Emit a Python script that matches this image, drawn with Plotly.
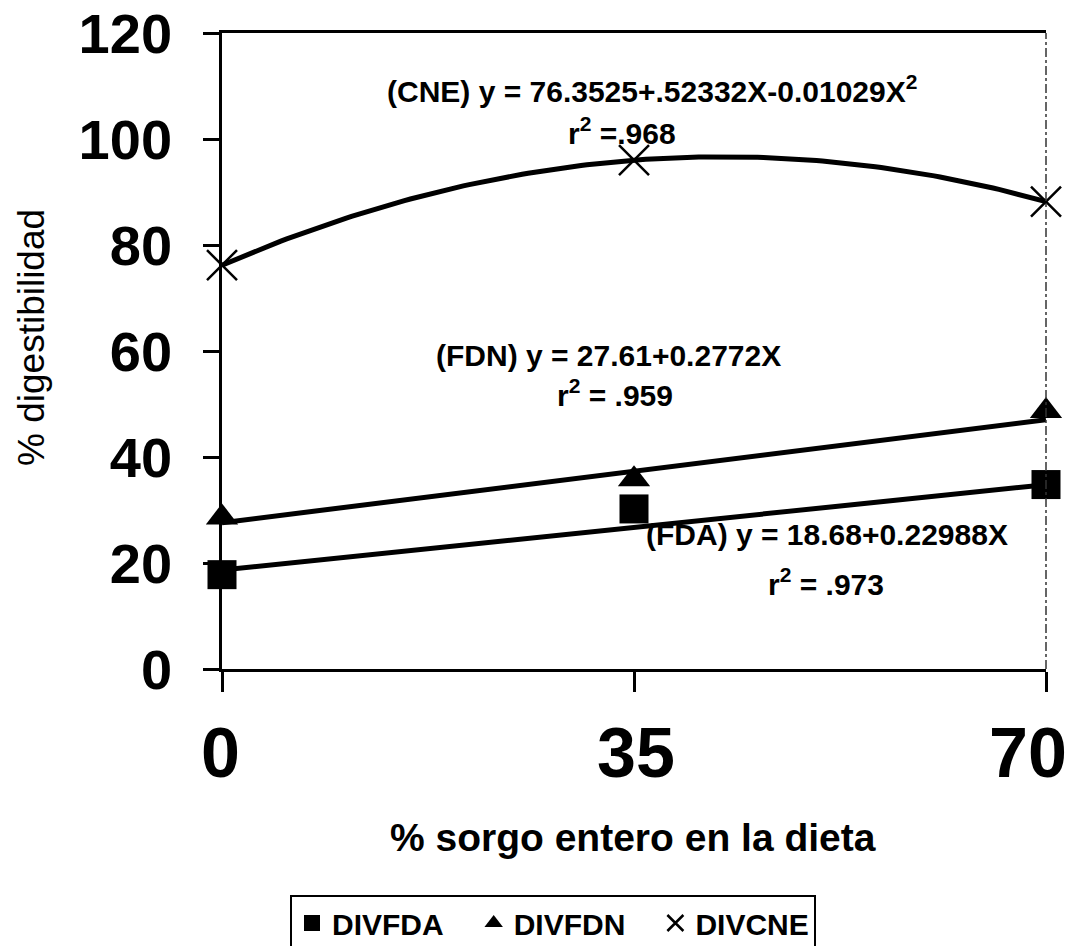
import numpy as np
import plotly.graph_objects as go

# ---- data ----
x_vals = [0, 35, 70]
divfda = [17.8, 30.2, 34.8]
divfdn = [28.6, 35.8, 48.7]
divcne = [76.2, 96.0, 88.2]

fda_coef = [18.68, 0.22988]      # intercept, slope (from chart text)
fdn_coef = [27.61, 0.2772]

x_ticks = [0, 35, 70]
x_tick_text = ["0", "35", "70"]
y_ticks = [0, 20, 40, 60, 80, 100, 120]
series_names = ["DIVFDA", "DIVFDN", "DIVCNE"]

FONT = "Liberation Sans, Arial, sans-serif"

xs = np.linspace(0, 70, 141)
fda_fit = fda_coef[0] + fda_coef[1] * xs
fdn_fit = fdn_coef[0] + fdn_coef[1] * xs
cne_poly = np.polyfit(x_vals, divcne, 2)
cne_fit = np.polyval(cne_poly, xs)

fig = go.Figure()
line_style = dict(color="black", width=5)
for yy in (fda_fit, fdn_fit, cne_fit):
    fig.add_trace(go.Scatter(x=xs, y=yy, mode="lines", line=line_style,
                             showlegend=False, hoverinfo="skip", cliponaxis=False))

pad = "\u00a0" * 3
fig.add_trace(go.Scatter(x=x_vals, y=divfda, mode="markers",
                         name=f"<b>{series_names[0]}</b>{pad}",
                         marker=dict(symbol="square", size=29, color="black"),
                         cliponaxis=False))
fig.add_trace(go.Scatter(x=x_vals, y=divfdn, mode="markers",
                         name=f"<b>{series_names[1]}</b>{pad}",
                         marker=dict(symbol="triangle-up", size=28, color="black"),
                         cliponaxis=False))
fig.add_trace(go.Scatter(x=x_vals, y=divcne, mode="markers",
                         name=f"<b>{series_names[2]}</b>",
                         marker=dict(symbol="x-thin", size=30, color="black",
                                     line=dict(color="black", width=2.5)),
                         cliponaxis=False))

OFF = 8  # page body margin
W, H = 1081, 946
# target plot area in screenshot pixels
PL, PR, PT, PB = 222, 1046, 33, 669
L = PL - OFF
R = W - (PR - OFF)
T = PT - OFF
B = H - (PB - OFF)
pw, ph = PR - PL, PB - PT


def px_x(p):
    return (p - PL) / pw


def px_y(p):
    return (PB - p) / ph


ann_font = dict(family=FONT, size=30, color="black")
annots = [
    ("<b>(CNE) y = 76.3525+.52332X-0.01029X<sup>2</sup></b>", 652, 89),
    ("<b>r<sup>2</sup> =.968</b>", 622, 131),
    ("<b>(FDN) y = 27.61+0.2772X</b>", 608, 356),
    ("<b>r<sup>2</sup> = .959</b>", 615, 393),
    ("<b>(FDA) y = 18.68+0.22988X</b>", 827, 534),
    ("<b>r<sup>2</sup> = .973</b>", 826, 582),
]
for txt, px, py in annots:
    fig.add_annotation(text=txt, x=px_x(px), y=px_y(py),
                       xref="paper", yref="paper", showarrow=False,
                       xanchor="center", yanchor="middle", font=ann_font)

# x tick labels (last one pulled in to fit the page, as in the original)
shifts = [-2, 2, -18]
for v, t, s in zip(x_ticks, x_tick_text, shifts):
    fig.add_annotation(text=f"<b>{t}</b>", x=v, y=px_y(753), xref="x", yref="paper",
                       showarrow=False, xanchor="center", yanchor="middle", xshift=s,
                       font=dict(family=FONT, size=70, color="black"))

# axis titles
fig.add_annotation(text="<b>% sorgo entero en la dieta</b>", x=px_x(633),
                   y=px_y(838), xref="paper", yref="paper", showarrow=False,
                   xanchor="center", yanchor="middle",
                   font=dict(family=FONT, size=39, color="black"))
fig.add_annotation(text="% digestibilidad", x=px_x(32), y=px_y(338),
                   xref="paper", yref="paper", showarrow=False, textangle=-90,
                   xanchor="center", yanchor="middle",
                   font=dict(family=FONT, size=37, color="black"))

# right dash-dot border
fig.add_shape(type="line", xref="paper", yref="paper", x0=1, x1=1, y0=0, y1=1,
              line=dict(color="#333", width=1.5, dash="dashdot"))

fig.update_layout(
    width=W, height=H,
    margin=dict(l=L, r=R, t=T, b=B, autoexpand=False),
    paper_bgcolor="white", plot_bgcolor="white",
    font=dict(family=FONT, color="black"),
    showlegend=True,
    legend=dict(orientation="h", x=px_x(290), y=px_y(895),
                xanchor="left", yanchor="top",
                bordercolor="black", borderwidth=2,
                font=dict(family=FONT, size=30, color="black")),
    xaxis=dict(range=[0, 70], tickvals=x_ticks, showticklabels=False,
               showgrid=False, zeroline=False, showline=True, linecolor="black",
               linewidth=2.5, mirror=True, ticks="outside", ticklen=20, tickwidth=2.5,
               tickcolor="black", automargin=False),
    yaxis=dict(range=[0, 120], tickvals=y_ticks, ticktext=[f"<b>{v}</b>" for v in y_ticks],
               showgrid=False, zeroline=False, showline=True, linecolor="black",
               linewidth=2.5, ticks="outside", ticklen=16, tickwidth=2.5,
               tickcolor="black", tickfont=dict(family=FONT, size=56, color="black"),
               ticklabelstandoff=20, automargin=False, ticklabeloverflow="allow"),
)

fig.write_html("out.html")
